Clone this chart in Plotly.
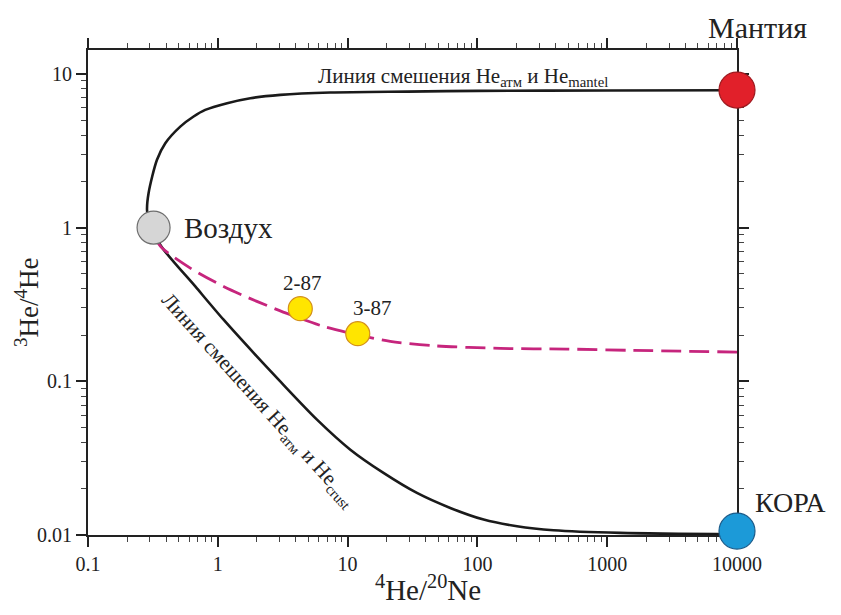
import math
import plotly.graph_objects as go

# ---- data ----
upper_x = [0.30, 0.285, 0.293, 0.34, 0.394, 0.514, 0.651, 0.80, 1.18, 1.78, 3.03, 7.36, 28.7, 100, 1000, 10000]
upper_y = [1.0, 1.3, 1.68, 2.76, 3.54, 4.54, 5.28, 5.83, 6.45, 6.95, 7.30, 7.56, 7.67, 7.75, 7.8, 7.82]

lower_x = [0.32, 0.36, 0.671, 1.108, 1.887, 2.94, 5.81, 10.5, 18.9, 34.2, 61.8, 111.7, 202, 386, 1259, 10000]
lower_y = [1.0, 0.773, 0.414, 0.2515, 0.153, 0.1024, 0.0563, 0.0359, 0.02535, 0.01878, 0.0150, 0.0126, 0.0114, 0.01074, 0.01032, 0.0101]

dashed_x = [0.33, 0.372, 0.614, 1.108, 2.0, 3.62, 6.53, 11.8, 21.3, 46, 150, 490, 1597, 10000]
dashed_y = [0.85, 0.736, 0.545, 0.414, 0.331, 0.271, 0.2275, 0.201, 0.1817, 0.1703, 0.1637, 0.162, 0.1589, 0.155]

air = (0.32, 1.0)
mantle = (10000, 7.85)
crust = (10000, 0.0106)

sample_names = ["2-87", "3-87"]
sample_x = [4.32, 11.97]
sample_y = [0.297, 0.204]

x_tickvals = [0.1, 1, 10, 100, 1000, 10000]
x_ticktext = ["0.1", "1", "10", "100", "1000", "10000"]
y_tickvals = [0.01, 0.1, 1, 10]
y_ticktext = ["0.01", "0.1", "1", "10"]

SERIF = "Liberation Serif"
INK = "#222222"

x_minor = [m * 10 ** d for d in range(-1, 4) for m in range(2, 10)]
y_minor = [m * 10 ** d for d in range(-2, 2) for m in range(2, 10) if m * 10 ** d < 14]

fig = go.Figure()

line_kw = dict(shape="spline", smoothing=0.8)
fig.add_trace(go.Scatter(x=upper_x, y=upper_y, mode="lines",
                         line=dict(color="#1a1a1a", width=2.6, **line_kw),
                         hoverinfo="skip", cliponaxis=False))
fig.add_trace(go.Scatter(x=lower_x, y=lower_y, mode="lines",
                         line=dict(color="#1a1a1a", width=2.6, **line_kw),
                         hoverinfo="skip", cliponaxis=False))
fig.add_trace(go.Scatter(x=dashed_x, y=dashed_y, mode="lines",
                         line=dict(color="#C6257D", width=2.8, dash="20px,8px", **line_kw),
                         hoverinfo="skip", cliponaxis=False))

def endpoint(pt, size, fill, edge):
    fig.add_trace(go.Scatter(x=[pt[0]], y=[pt[1]], mode="markers", cliponaxis=False,
                             marker=dict(size=size, color=fill, line=dict(color=edge, width=1.2))))

endpoint(air, 33, "#D6D6D6", "#6E6E6E")
endpoint(mantle, 36, "#E1202A", "#9E1A20")
endpoint(crust, 36, "#1C9AD8", "#1D5C8A")

fig.add_trace(go.Scatter(x=sample_x, y=sample_y, mode="markers", cliponaxis=False,
                         marker=dict(size=24, color="#FFE500", line=dict(color="#D4901A", width=1.2))))

# page body has an 8px margin, so the figure is drawn 8px in from the window corner
OFF = 8
L, R, T, B = 80, 104, 42, 80
W, H = 841 - OFF, 615 - OFF
pw, ph = W - L - R, H - T - B

def px2paper(px, py):
    return (px - OFF - L) / pw, (H - B - (py - OFF)) / ph

ann = []
def lab(text, x, y, size, xref="x", yref="y", **kw):
    d = dict(text=text, x=x, y=y, xref=xref, yref=yref, showarrow=False,
             xanchor="center", yanchor="middle",
             font=dict(family=SERIF, size=size, color=INK))
    d.update(kw)
    ann.append(d)

lg = math.log10
lab("Мантия", lg(mantle[0]), lg(mantle[1]), 30, xshift=20, yshift=63)
lab("Воздух", lg(air[0]), lg(air[1]), 29, xanchor="left", xshift=28, yshift=0)
lab("КОРА", lg(crust[0]), lg(crust[1]), 28, xanchor="left", xshift=16, yshift=29)
for n, sx, sy, dx in zip(sample_names, sample_x, sample_y, [2, 15]):
    lab(n, lg(sx), lg(sy), 21, xshift=dx, yshift=26)

px, py = px2paper(463, 77)
lab("Линия смешения He<sub>атм</sub> и He<sub>mantel</sub>", px, py, 21, xref="paper", yref="paper")
px, py = px2paper(258, 400)
lab("Линия смешения He<sub>атм</sub> и He<sub>crust</sub>", px, py, 21, xref="paper", yref="paper", textangle=48)
px, py = px2paper(27, 302)
lab("<sup>3</sup>He/<sup>4</sup>He", px, py, 27, xref="paper", yref="paper", textangle=-90)
px, py = px2paper(428, 588)
lab("<sup>4</sup>He/<sup>20</sup>Ne", px, py, 29, xref="paper", yref="paper")

axis_common = dict(type="log", showgrid=False, zeroline=False, showline=True, linewidth=2,
                   linecolor=INK, ticks="outside", ticklen=10, tickwidth=1.5, tickcolor=INK,
                   mirror="allticks", layer="below traces",
                   tickfont=dict(family=SERIF, size=20, color=INK))

fig.update_xaxes(range=[-1, 4], tickvals=x_tickvals, ticktext=x_ticktext,
                 minor=dict(tickvals=x_minor, ticks="outside", ticklen=5, tickwidth=1, tickcolor="#444", showgrid=False),
                 **axis_common)
fig.update_yaxes(range=[-2, lg(14.3)], tickvals=y_tickvals, ticktext=y_ticktext,
                 minor=dict(tickvals=y_minor, ticks="outside", ticklen=5, tickwidth=1, tickcolor="#444", showgrid=False),
                 **axis_common)

fig.update_layout(width=W, height=H, margin=dict(l=L, r=R, t=T, b=B, autoexpand=False),
                  paper_bgcolor="white", plot_bgcolor="white", showlegend=False,
                  annotations=ann, font=dict(family=SERIF, color=INK))

fig.write_html("out.html")
